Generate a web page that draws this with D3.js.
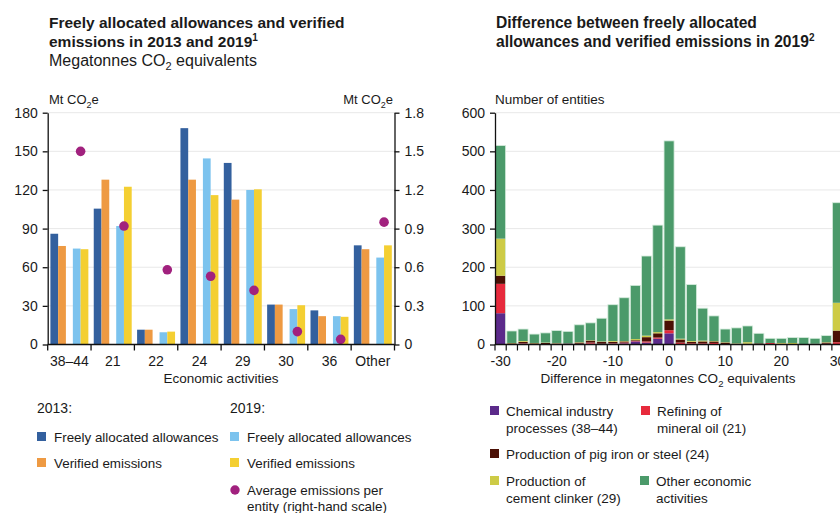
<!DOCTYPE html>
<html><head><meta charset="utf-8">
<script src="https://cdn.jsdelivr.net/npm/d3@7"></script>
<style>
html,body{margin:0;padding:0;background:#fff;overflow:hidden}
svg{display:block;font-family:"Liberation Sans",Arial,sans-serif;}
</style></head><body>
<svg id="c" width="840" height="513"></svg>
<script>
// ---------- Left chart data ----------
const activities = ["38–44","21","22","24","29","30","36","Other"];
const alloc2013 = [86,105.5,11.5,168,141,31,26.5,77];
const verified2013 = [76.5,128,11.5,128,112.5,31,22,74];
const alloc2019 = [74.5,92,9.5,144.5,120,27.5,22,67.5];
const verified2019 = [74,122.5,10,116,120.5,30.5,21.5,77];
const avgPerEntity = [1.50,0.92,0.58,0.53,0.42,0.10,0.04,0.95];
const leftTicks = [0,30,60,90,120,150,180];
const rightTicks = [0,0.3,0.6,0.9,1.2,1.5,1.8];

// ---------- Right chart data ----------
const bins = [-30,-28,-26,-24,-22,-20,-18,-16,-14,-12,-10,-8,-6,-4,-2,0,2,4,6,8,10,12,14,16,18,20,22,24,26,28,30];
const chemical = [81,1,2,1,1,2,2,1,2,2,2,3,8,5,15,29,1,0,0,0,0,0,0,0,0,0,0,0,0,0,0];
const refining = [76,0,1,0,0,0,0,1,3,0,1,2,1,3,3,8,4,3,3,4,1,1,0,1,4,2,1,1,1,2,6];
const pigIron  = [21,2,4,2,3,1,1,3,5,5,4,3,2,11,11,25,8,4,5,4,4,1,2,2,0,0,0,0,1,3,30];
const cement   = [96,1,2,1,1,1,0,1,1,1,2,1,3,4,3,3,2,2,2,1,1,1,4,0,0,2,3,0,0,1,72];
const otherAct = [241,31,31,23,25,32,31,45,45,60,94,112,139,206,277,462,238,146,84,65,34,40,42,26,12,12,14,17,14,17,259];
const countTicks = [0,100,200,300,400,500,600];
const diffTicks = [-30,-20,-10,0,10,20,30];

const C = {
  dblue:"#33609e", orange:"#ee9a43", lblue:"#7cc3ee", yellow:"#f4cf32", dot:"#a1217e",
  purple:"#5b2a8a", red:"#e72a3c", brown:"#4b1005", olive:"#cdcb46", green:"#4b9a6a",
  grid:"#e8e8e8", text:"#1a1a1a"
};

const svg = d3.select("#c");

function co2(sel, before, after, sub) {
  sel.append("tspan").text(before);
  sel.append("tspan").attr("font-size", sub).attr("dy", 4).text("2");
  sel.append("tspan").attr("dy", -4).text(after);
}

// ---------- Titles ----------
const t1 = svg.append("text").attr("x",49).attr("y",28).attr("font-weight","bold").attr("font-size",15.5).attr("fill",C.text);
t1.text("Freely allocated allowances and verified");
const t1b = svg.append("text").attr("x",49).attr("y",47).attr("font-weight","bold").attr("font-size",15.5).attr("fill",C.text);
t1b.append("tspan").text("emissions in 2013 and 2019");
t1b.append("tspan").attr("font-size",10).attr("dy",-6).text("1");
const t1c = svg.append("text").attr("x",49).attr("y",66).attr("font-size",16).attr("fill",C.text);
co2(t1c, "Megatonnes CO", " equivalents", 11);

svg.append("text").attr("x",496).attr("y",28).attr("font-weight","bold").attr("font-size",15.6).attr("fill",C.text)
  .text("Difference between freely allocated");
const t2b = svg.append("text").attr("x",496).attr("y",47).attr("font-weight","bold").attr("font-size",15.6).attr("fill",C.text);
t2b.append("tspan").text("allowances and verified emissions in 2019");
t2b.append("tspan").attr("font-size",10).attr("dy",-6).text("2");

// ---------- Left chart ----------
const y0 = 344.5, yTop = 112.7;
const yL = d3.scaleLinear().domain([0,180]).range([y0,yTop]);
const yR = d3.scaleLinear().domain([0,1.8]).range([y0,yTop]);
const xL = d3.scaleBand().domain(activities).range([47.7,394.5]);
const xPair = d3.scaleBand().domain(["2013","2019"]).range([0,xL.bandwidth()]).paddingInner(0.31).paddingOuter(0.12);
const xBar = d3.scaleBand().domain([0,1]).range([0,xPair.bandwidth()]);

const gL = svg.append("g");
gL.selectAll("line.grid").data(leftTicks.filter(d=>d>0)).join("line")
  .attr("x1",47.7).attr("x2",394.5).attr("y1",d=>yL(d)).attr("y2",d=>yL(d))
  .attr("stroke",C.grid).attr("stroke-width",1);

const series = [
  {vals:alloc2013, year:"2013", k:0, color:C.dblue},
  {vals:verified2013, year:"2013", k:1, color:C.orange},
  {vals:alloc2019, year:"2019", k:0, color:C.lblue},
  {vals:verified2019, year:"2019", k:1, color:C.yellow}
];
series.forEach(s => {
  gL.append("g").selectAll("rect").data(s.vals).join("rect")
    .attr("x",(d,i)=>xL(activities[i]) + xPair(s.year) + xBar(s.k))
    .attr("width", xBar.bandwidth())
    .attr("y", d=>yL(d)).attr("height", d=>y0 - yL(d))
    .attr("fill", s.color);
});
gL.append("g").selectAll("circle").data(avgPerEntity).join("circle")
  .attr("cx",(d,i)=>xL(activities[i]) + xPair("2019") + xPair.bandwidth()/2)
  .attr("cy", d=>yR(d)).attr("r",4.8).attr("fill",C.dot);

const axL = gL.append("g").attr("transform","translate(47.7,0)")
  .call(d3.axisLeft(yL).tickValues(leftTicks).tickSize(5).tickSizeOuter(0).tickPadding(5));
const axR = gL.append("g").attr("transform","translate(394.5,0)")
  .call(d3.axisRight(yR).tickValues(rightTicks).tickSize(5).tickSizeOuter(0).tickPadding(5)
    .tickFormat(d=> d===0 ? "0" : d3.format(".1f")(d)));
[axL, axR].forEach(a => {
  a.selectAll("text").attr("font-size",14).attr("fill",C.text).attr("font-family","Liberation Sans, Arial, sans-serif");
  a.selectAll("line,path").attr("stroke","#111").attr("stroke-width",1.3);
});
// x axis
gL.append("line").attr("x1",47.7).attr("x2",394.5).attr("y1",y0).attr("y2",y0).attr("stroke","#111").attr("stroke-width",1.3);
const bounds = activities.map(a=>xL(a)).concat([xL.range()[1]]);
gL.selectAll("line.xt").data(bounds).join("line")
  .attr("x1",d=>d).attr("x2",d=>d).attr("y1",y0).attr("y2",y0+6).attr("stroke","#111").attr("stroke-width",1.3);
gL.selectAll("text.xl").data(activities).join("text")
  .attr("x",d=>xL(d)+xL.bandwidth()/2).attr("y",366).attr("text-anchor","middle")
  .attr("font-size",14).attr("fill",C.text).text(d=>d);
gL.append("text").attr("x",221).attr("y",383).attr("text-anchor","middle").attr("font-size",13.5).attr("fill",C.text)
  .text("Economic activities");
const uL = gL.append("text").attr("x",49).attr("y",104).attr("font-size",13).attr("fill",C.text);
co2(uL, "Mt CO", "e", 9);
const uR = gL.append("text").attr("x",393).attr("y",104).attr("text-anchor","end").attr("font-size",13).attr("fill",C.text);
co2(uR, "Mt CO", "e", 9);

// left legend
const lg = svg.append("g").attr("font-size",13.4).attr("fill",C.text);
lg.append("text").attr("x",37).attr("y",413).attr("font-size",14).text("2013:");
lg.append("text").attr("x",230).attr("y",413).attr("font-size",14).text("2019:");
const legL = [
  {x:37, y:432, c:C.dblue, t:"Freely allocated allowances"},
  {x:37, y:458, c:C.orange, t:"Verified emissions"},
  {x:230, y:432, c:C.lblue, t:"Freely allocated allowances"},
  {x:230, y:458, c:C.yellow, t:"Verified emissions"}
];
legL.forEach(d=>{
  lg.append("rect").attr("x",d.x).attr("y",d.y).attr("width",9).attr("height",9).attr("fill",d.c);
  lg.append("text").attr("x",d.x+17).attr("y",d.y+10).text(d.t);
});
lg.append("circle").attr("cx",235).attr("cy",490).attr("r",4.7).attr("fill",C.dot);
lg.append("text").attr("x",247).attr("y",495).text("Average emissions per");
lg.append("text").attr("x",247).attr("y",511).text("entity (right-hand scale)");

// ---------- Right chart ----------
const xH = d3.scaleLinear().domain([-31,31]).range([495,843.1]);
const yH = d3.scaleLinear().domain([0,600]).range([y0,yTop]);
const gR = svg.append("g");
gR.selectAll("line.grid").data(countTicks.filter(d=>d>0)).join("line")
  .attr("x1",495).attr("x2",840).attr("y1",d=>yH(d)).attr("y2",d=>yH(d))
  .attr("stroke",C.grid).attr("stroke-width",1);

const keys = ["chemical","refining","pigIron","cement","other"];
const colors = {chemical:C.purple, refining:C.red, pigIron:C.brown, cement:C.olive, other:C.green};
const table = bins.map((b,i)=>({bin:b, chemical:chemical[i], refining:refining[i], pigIron:pigIron[i], cement:cement[i], other:otherAct[i]}));
const stacked = d3.stack().keys(keys)(table);
const binW = xH(1)-xH(-1);
stacked.forEach(layer=>{
  gR.append("g").selectAll("rect").data(layer).join("rect")
    .attr("x", d=>xH(d.data.bin-1)+0.6)
    .attr("width", binW-1.2)
    .attr("y", d=>yH(d[1])).attr("height", d=>Math.max(0, yH(d[0])-yH(d[1])))
    .attr("fill", colors[layer.key]);
});
// light outline on each bar
gR.append("g").selectAll("rect").data(table).join("rect")
  .attr("x", d=>xH(d.bin-1)+0.6).attr("width", binW-1.2)
  .attr("y", d=>yH(d.chemical+d.refining+d.pigIron+d.cement+d.other)).attr("height", d=>y0-yH(d.chemical+d.refining+d.pigIron+d.cement+d.other))
  .attr("fill","none").attr("stroke","#d6ecdd").attr("stroke-width",0.8);

const axH = gR.append("g").attr("transform","translate(495,0)")
  .call(d3.axisLeft(yH).tickValues(countTicks).tickSize(5).tickSizeOuter(0).tickPadding(5));
axH.selectAll("text").attr("font-size",14).attr("fill",C.text).attr("font-family","Liberation Sans, Arial, sans-serif");
axH.selectAll("line,path").attr("stroke","#111").attr("stroke-width",1.3);
gR.append("line").attr("x1",495).attr("x2",845).attr("y1",y0).attr("y2",y0).attr("stroke","#111").attr("stroke-width",1.3);
const edges = bins.map(b=>b-1).concat([bins[bins.length-1]+1]);
gR.selectAll("line.xt").data(edges).join("line")
  .attr("x1",d=>xH(d)).attr("x2",d=>xH(d)).attr("y1",y0).attr("y2",y0+6).attr("stroke","#111").attr("stroke-width",1.2);
gR.selectAll("text.xl").data(diffTicks).join("text")
  .attr("x",d=>xH(d)).attr("y",366).attr("text-anchor","middle").attr("font-size",14).attr("fill",C.text)
  .text(d=>String(d));
const xt = gR.append("text").attr("x",668).attr("y",383).attr("text-anchor","middle").attr("font-size",13.5).attr("fill",C.text);
co2(xt, "Difference in megatonnes CO", " equivalents", 9.5);
gR.append("text").attr("x",495).attr("y",104).attr("font-size",13.5).attr("fill",C.text).text("Number of entities");

// right legend
const rg = svg.append("g").attr("font-size",13.5).attr("fill",C.text);
const legR = [
  {x:490, y:406, c:C.purple, t:["Chemical industry","processes (38–44)"]},
  {x:641, y:406, c:C.red, t:["Refining of","mineral oil (21)"]},
  {x:490, y:449, c:C.brown, t:["Production of pig iron or steel (24)"]},
  {x:490, y:476, c:C.olive, t:["Production of","cement clinker (29)"]},
  {x:640, y:476, c:C.green, t:["Other economic","activities"]}
];
legR.forEach(d=>{
  rg.append("rect").attr("x",d.x).attr("y",d.y).attr("width",9).attr("height",9).attr("fill",d.c);
  d.t.forEach((line,j)=>{
    rg.append("text").attr("x",d.x+16).attr("y",d.y+9.5+j*17).text(line);
  });
});
</script>
</body></html>
